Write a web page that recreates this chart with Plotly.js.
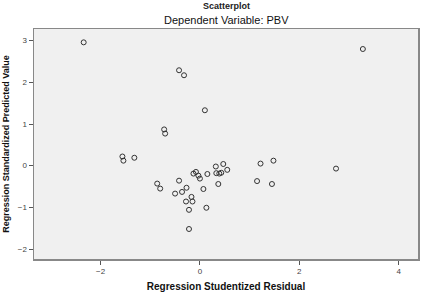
<!DOCTYPE html>
<html><head><meta charset="utf-8">
<script src="https://cdn.plot.ly/plotly-3.0.1.min.js"></script>
<style>html,body{margin:0;padding:0;background:#fff;}#chart{width:424px;height:298px;}</style>
</head><body><div id="chart"></div>
<script>
const residual = [-2.34, 3.28, -0.42, -0.32, 0.10, -0.72, -0.70, -1.56, -1.54, -1.32,
  -0.86, -0.80, -0.42, -0.50, -0.36, -0.27, -0.28, -0.17, -0.15, -0.22,
  -0.22, -0.13, -0.08, -0.03, 0.00, 0.07, 0.13, 0.15, 0.32, 0.33,
  0.39, 0.37, 0.47, 0.55, 0.43, 1.22, 1.48, 2.74, 1.15, 1.45];
const predicted = [2.96, 2.80, 2.29, 2.17, 1.33, 0.87, 0.77, 0.22, 0.12, 0.19,
  -0.43, -0.55, -0.36, -0.67, -0.63, -0.53, -0.86, -0.75, -0.86, -1.06,
  -1.52, -0.19, -0.15, -0.24, -0.31, -0.56, -1.01, -0.20, -0.02, -0.18,
  -0.19, -0.44, 0.04, -0.10, -0.17, 0.05, 0.12, -0.07, -0.37, -0.44];
const xTicks = [-2, 0, 2, 4];
const yTicks = [-2, -1, 0, 1, 2, 3];
const titleText = "Scatterplot";
const subtitleText = "Dependent Variable: PBV";
const xTitle = "Regression Studentized Residual";
const yTitle = "Regression Standardized Predicted Value";

const font = "Liberation Sans, Arial, sans-serif";
Plotly.newPlot('chart', [{
  x: residual, y: predicted, type: 'scatter', mode: 'markers',
  marker: {symbol: 'circle-open', size: 5, color: '#333', line: {width: 1, color: '#333'}},
  hoverinfo: 'none'
}], {
  width: 424, height: 298,
  margin: {l: 34, r: 6, t: 29, b: 39},
  paper_bgcolor: '#ffffff', plot_bgcolor: '#f0f0f0',
  showlegend: false,
  font: {family: font, size: 9, color: '#222'},
  xaxis: {range: [-3.34, 4.39], tickvals: xTicks, ticks: 'outside', ticklen: 4, tickcolor: '#555',
    showgrid: false, zeroline: false, showline: true, linecolor: '#888', linewidth: 1.5, mirror: true,
    tickfont: {size: 8, color: '#444'},
    title: {text: '<b>' + xTitle + '</b>', font: {size: 10, color: '#111'}, standoff: 8}},
  yaxis: {range: [-2.24, 3.28], tickvals: yTicks, ticks: 'outside', ticklen: 4, tickcolor: '#555',
    showgrid: false, zeroline: false, showline: true, linecolor: '#888', linewidth: 1.5, mirror: true,
    tickfont: {size: 8, color: '#444'},
    title: {text: '<b>' + yTitle + '</b>', font: {size: 9, color: '#111'}, standoff: 6}},
  annotations: [
    {text: '<b>' + titleText + '</b>', xref: 'paper', yref: 'paper', x: 0.5, y: 1, yshift: 23,
     xanchor: 'center', yanchor: 'middle', showarrow: false, font: {size: 9, color: '#222'}},
    {text: subtitleText, xref: 'paper', yref: 'paper', x: 0.5, y: 1, yshift: 9,
     xanchor: 'center', yanchor: 'middle', showarrow: false, font: {size: 11, color: '#111'}}
  ]
}, {staticPlot: true});
</script></body></html>
